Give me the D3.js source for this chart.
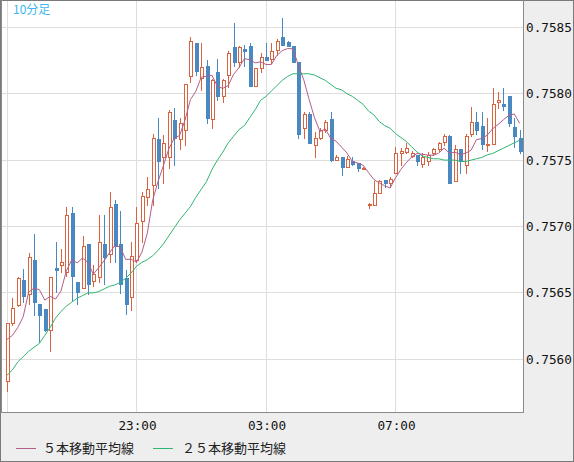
<!DOCTYPE html>
<html>
<head>
<meta charset="utf-8">
<script src="https://cdn.jsdelivr.net/npm/d3@7"></script>
<style>
body { margin: 0; background: #fff; }
svg { display: block; }
</style>
</head>
<body>
<div id="chart"></div>
<script>
// 10-minute candles, 19:00 .. 10:50
var opens = [0.75584, 0.75627, 0.75641, 0.75660, 0.75649, 0.75675, 0.75642, 0.75638, 0.75622, 0.75669,
  0.75671, 0.75666, 0.75710, 0.75658, 0.75654, 0.75687, 0.75659, 0.75662, 0.75687, 0.75679,
  0.75717, 0.75687, 0.75661, 0.75647, 0.75675, 0.75704, 0.75722, 0.75731, 0.75766, 0.75752,
  0.75752, 0.75780, 0.75766, 0.75773, 0.75813, 0.75838, 0.75812, 0.75821, 0.75781, 0.75816,
  0.75798, 0.75814, 0.75835, 0.75824, 0.75834, 0.75836, 0.75806, 0.75819, 0.75828, 0.75826,
  0.75833, 0.75843, 0.75839, 0.75836, 0.75824, 0.75774, 0.75785, 0.75761, 0.75767, 0.75773,
  0.75781, 0.75750, 0.75752, 0.75745, 0.75749, 0.75748, 0.75743, 0.75716, 0.75716, 0.75725,
  0.75735, 0.75733, 0.75740, 0.75755, 0.75756, 0.75753, 0.75754, 0.75747, 0.75749, 0.75755,
  0.75758, 0.75764, 0.75768, 0.75734, 0.75758, 0.75746, 0.75770, 0.75779, 0.75776, 0.75761,
  0.75762, 0.75794, 0.75792, 0.75798, 0.75775, 0.75767];
var highs = [0.75627, 0.75646, 0.75662, 0.75668, 0.75680, 0.75694, 0.75642, 0.75638, 0.75662, 0.75688,
  0.75683, 0.75715, 0.75715, 0.75658, 0.75693, 0.75687, 0.75671, 0.75709, 0.75709, 0.75726,
  0.75720, 0.75712, 0.75667, 0.75688, 0.75715, 0.75726, 0.75737, 0.75770, 0.75782, 0.75769,
  0.75788, 0.75789, 0.75782, 0.75807, 0.75843, 0.75838, 0.75838, 0.75825, 0.75811, 0.75826,
  0.75811, 0.75832, 0.75853, 0.75836, 0.75837, 0.75838, 0.75819, 0.75831, 0.75838, 0.75838,
  0.75841, 0.75857, 0.75840, 0.75836, 0.75824, 0.75786, 0.75786, 0.75771, 0.75774, 0.75780,
  0.75786, 0.75754, 0.75752, 0.75753, 0.75752, 0.75748, 0.75745, 0.75718, 0.75734, 0.75735,
  0.75735, 0.75737, 0.75760, 0.75759, 0.75763, 0.75757, 0.75754, 0.75755, 0.75756, 0.75759,
  0.75764, 0.75770, 0.75769, 0.75761, 0.75758, 0.75770, 0.75790, 0.75786, 0.75786, 0.75782,
  0.75804, 0.75801, 0.75804, 0.75798, 0.75782, 0.75773];
var lows = [0.75576, 0.75626, 0.75640, 0.75643, 0.75642, 0.75633, 0.75613, 0.75621, 0.75606, 0.75651,
  0.75666, 0.75663, 0.75645, 0.75642, 0.75654, 0.75649, 0.75655, 0.75658, 0.75657, 0.75673,
  0.75673, 0.75650, 0.75634, 0.75637, 0.75673, 0.75688, 0.75716, 0.75716, 0.75729, 0.75733,
  0.75744, 0.75746, 0.75758, 0.75761, 0.75809, 0.75814, 0.75803, 0.75778, 0.75774, 0.75795,
  0.75794, 0.75805, 0.75821, 0.75820, 0.75821, 0.75806, 0.75806, 0.75816, 0.75825, 0.75823,
  0.75829, 0.75837, 0.75836, 0.75824, 0.75767, 0.75767, 0.75763, 0.75752, 0.75766, 0.75771,
  0.75749, 0.75750, 0.75739, 0.75745, 0.75746, 0.75742, 0.75743, 0.75714, 0.75716, 0.75725,
  0.75730, 0.75730, 0.75740, 0.75746, 0.75755, 0.75752, 0.75746, 0.75745, 0.75746, 0.75754,
  0.75757, 0.75761, 0.75733, 0.75734, 0.75740, 0.75740, 0.75768, 0.75770, 0.75758, 0.75757,
  0.75762, 0.75789, 0.75788, 0.75776, 0.75760, 0.75755];
var closes = [0.75627, 0.75639, 0.75661, 0.75648, 0.75677, 0.75643, 0.75633, 0.75622, 0.75662, 0.75667,
  0.75673, 0.75709, 0.75663, 0.75651, 0.75685, 0.75657, 0.75664, 0.75688, 0.75677, 0.75715,
  0.75685, 0.75657, 0.75642, 0.75678, 0.75703, 0.75723, 0.75728, 0.75767, 0.75749, 0.75763,
  0.75786, 0.75767, 0.75778, 0.75807, 0.75840, 0.75817, 0.75820, 0.75782, 0.75810, 0.75798,
  0.75810, 0.75831, 0.75824, 0.75835, 0.75832, 0.75806, 0.75819, 0.75828, 0.75825, 0.75832,
  0.75840, 0.75837, 0.75836, 0.75824, 0.75770, 0.75785, 0.75763, 0.75767, 0.75773, 0.75779,
  0.75750, 0.75752, 0.75745, 0.75751, 0.75747, 0.75744, 0.75744, 0.75717, 0.75725, 0.75734,
  0.75733, 0.75736, 0.75755, 0.75757, 0.75759, 0.75755, 0.75749, 0.75752, 0.75754, 0.75758,
  0.75763, 0.75768, 0.75733, 0.75758, 0.75749, 0.75768, 0.75779, 0.75773, 0.75762, 0.75762,
  0.75792, 0.75795, 0.75791, 0.75778, 0.75768, 0.75757];

// 25-period average (its earlier candles are off screen)
var ma25 = [0.75588, 0.75592, 0.75598, 0.75602, 0.75606, 0.75609, 0.75612, 0.75618, 0.75624, 0.75631,
  0.75636, 0.75640, 0.75643, 0.75646, 0.75648, 0.75650, 0.75650, 0.75651, 0.75653, 0.75655,
  0.75656, 0.75658, 0.75661, 0.75665, 0.75670, 0.75673, 0.75675, 0.75678, 0.75682, 0.75687,
  0.75693, 0.75699, 0.75705, 0.75710, 0.75715, 0.75722, 0.75728, 0.75734, 0.75743, 0.75750,
  0.75756, 0.75763, 0.75768, 0.75773, 0.75776, 0.75782, 0.75788, 0.75795, 0.75798, 0.75802,
  0.75806, 0.75810, 0.75813, 0.75815, 0.75815, 0.75815, 0.75815, 0.75814, 0.75812, 0.75810,
  0.75807, 0.75804, 0.75803, 0.75800, 0.75798, 0.75795, 0.75792, 0.75787, 0.75784, 0.75779,
  0.75776, 0.75774, 0.75770, 0.75767, 0.75764, 0.75760, 0.75756, 0.75753, 0.75752, 0.75751,
  0.75751, 0.75750, 0.75750, 0.75750, 0.75749, 0.75749, 0.75750, 0.75751, 0.75752, 0.75754,
  0.75755, 0.75757, 0.75759, 0.75761, 0.75763, 0.75765];
// first four 5-period values
var ma5Head = [0.75615, 0.75618, 0.75624, 0.75632];

var startTime = "19:00";
var stepMinutes = 10;
var gridTimes = ["19:00", "23:00", "03:00", "07:00"];
var tickLabels = ["23:00", "03:00", "07:00"];
var yTicks = [0.7560, 0.7565, 0.7570, 0.7575, 0.7580, 0.7585];
var legendLabels = ["５本移動平均線", "２５本移動平均線"];
var periodLabel = "10分足";

var upColor = "#d9633f";
var downColor = "#4a88c1";
var ma5Color = "#b25d8c";
var ma25Color = "#2fb571";

var svgWidth = 574, svgHeight = 462;
var plot = {left: 1, top: 1, right: 523, bottom: 412};
var monoFont = "'DejaVu Sans Mono', 'Liberation Mono', monospace";
var jpFont = "'Noto Sans CJK JP', 'Noto Sans', sans-serif";

/* build the time labels of the candles */
var pad2 = d3.format("02");
var startMin = +startTime.split(":")[0] * 60 + +startTime.split(":")[1];
var times = opens.map(function(d, i) {
  var m = (startMin + i * stepMinutes) % 1440;
  return pad2(Math.floor(m / 60)) + ":" + pad2(m % 60);
});

var candles = times.map(function(t, i) {
  return {t: t, o: opens[i], h: highs[i], l: lows[i], c: closes[i]};
});

var ma5 = closes.map(function(c, i) {
  if (i < 4) return ma5Head[i];
  return d3.mean(closes.slice(i - 4, i + 1));
});

var x = d3.scalePoint().domain(times).range([7, 519.6]);
var y = d3.scaleLinear().domain([0.7560, 0.7585]).range([359.3, 27.3]);

var svg = d3.select("#chart").append("svg")
  .attr("width", svgWidth)
  .attr("height", svgHeight);

svg.append("rect")
  .attr("width", svgWidth).attr("height", svgHeight)
  .attr("fill", "#eeeeee");

svg.append("rect")
  .attr("x", plot.left).attr("y", plot.top)
  .attr("width", plot.right - plot.left).attr("height", plot.bottom - plot.top)
  .attr("fill", "#ffffff");

svg.append("clipPath").attr("id", "plotClip")
  .append("rect")
  .attr("x", plot.left).attr("y", plot.top)
  .attr("width", plot.right - plot.left).attr("height", plot.bottom - plot.top);

/* grid */
var grid = svg.append("g").attr("shape-rendering", "crispEdges").attr("stroke", "#dedede");
grid.selectAll(".hgrid")
  .data(yTicks)
  .enter().append("line")
  .attr("x1", plot.left).attr("x2", plot.right)
  .attr("y1", function(d) { return Math.floor(y(d)) + 0.5; })
  .attr("y2", function(d) { return Math.floor(y(d)) + 0.5; });
grid.selectAll(".vgrid")
  .data(gridTimes)
  .enter().append("line")
  .attr("x1", function(d) { return Math.round(x(d)) + 0.5; })
  .attr("x2", function(d) { return Math.round(x(d)) + 0.5; })
  .attr("y1", plot.top).attr("y2", plot.bottom);

/* candles */
var cg = svg.append("g").attr("clip-path", "url(#plotClip)").attr("shape-rendering", "crispEdges");
var candle = cg.selectAll(".candle")
  .data(candles)
  .enter().append("g")
  .attr("class", "candle");

candle.append("line")
  .attr("x1", function(d) { return Math.round(x(d.t)) + 0.5; })
  .attr("x2", function(d) { return Math.round(x(d.t)) + 0.5; })
  .attr("y1", function(d) { return Math.round(y(d.h)); })
  .attr("y2", function(d) { return Math.round(y(d.l)) + 1; })
  .attr("stroke", function(d) { return d.c >= d.o ? upColor : downColor; });

candle.filter(function(d) { return d.c < d.o; })
  .append("rect")
  .attr("x", function(d) { return Math.round(x(d.t)) - 1; })
  .attr("y", function(d) { return Math.round(y(d.o)); })
  .attr("width", 4)
  .attr("height", function(d) { return Math.max(1, Math.round(y(d.c)) - Math.round(y(d.o)) + 1); })
  .attr("fill", downColor);

candle.filter(function(d) { return d.c >= d.o; })
  .append("rect")
  .attr("x", function(d) { return Math.round(x(d.t)) - 0.5; })
  .attr("y", function(d) { return Math.round(y(d.c)) + 0.5; })
  .attr("width", 3)
  .attr("height", function(d) { return Math.max(0, Math.round(y(d.o)) - Math.round(y(d.c))); })
  .attr("fill", "#ffffff")
  .attr("stroke", upColor);

/* moving averages */
var maLine = d3.line()
  .x(function(d, i) { return x(times[i]); })
  .y(function(d) { return y(d); });

var lg = svg.append("g").attr("clip-path", "url(#plotClip)").attr("fill", "none");
lg.append("path").attr("d", maLine(ma25)).attr("stroke", ma25Color).attr("stroke-width", 1);
lg.append("path").attr("d", maLine(ma5)).attr("stroke", ma5Color).attr("stroke-width", 1);

/* frame */
var frame = svg.append("g").attr("shape-rendering", "crispEdges").attr("fill", "none");
frame.append("rect")
  .attr("x", 0.5).attr("y", 0.5)
  .attr("width", svgWidth - 1).attr("height", svgHeight - 1)
  .attr("stroke", "#7a7a7a");
frame.append("line")
  .attr("x1", 1.5).attr("x2", 1.5).attr("y1", 0).attr("y2", plot.bottom)
  .attr("stroke", "#8a8a8a");
frame.append("line")
  .attr("x1", plot.right + 0.5).attr("x2", plot.right + 0.5).attr("y1", 0).attr("y2", plot.bottom + 1)
  .attr("stroke", "#8a8a8a");
frame.append("line")
  .attr("x1", 0).attr("x2", plot.right + 1).attr("y1", plot.bottom + 0.5).attr("y2", plot.bottom + 0.5)
  .attr("stroke", "#8a8a8a");

/* y labels */
svg.selectAll(".ylabel")
  .data(yTicks)
  .enter().append("text")
  .attr("x", 526)
  .attr("y", function(d) { return y(d); })
  .attr("dy", "0.36em")
  .attr("font-family", monoFont)
  .attr("font-size", "12.7px")
  .attr("fill", "#111")
  .text(function(d) { return d3.format(".4f")(d); });

/* x labels */
svg.selectAll(".xlabel")
  .data(tickLabels)
  .enter().append("text")
  .attr("x", function(d) { return x(d) + 1; })
  .attr("y", 429.5)
  .attr("text-anchor", "middle")
  .attr("font-family", monoFont)
  .attr("font-size", "12.7px")
  .attr("fill", "#111")
  .text(function(d) { return d; });

/* period label */
svg.append("text")
  .attr("x", 13).attr("y", 14)
  .attr("font-family", jpFont)
  .attr("font-size", "12px")
  .attr("fill", "#3db8ee")
  .text(periodLabel);

/* legend */
var legendPos = [{lx: 16, tx: 43, color: ma5Color}, {lx: 153, tx: 182, color: ma25Color}];
var legend = svg.selectAll(".legend")
  .data(legendLabels)
  .enter().append("g")
  .attr("class", "legend");
legend.append("line")
  .attr("x1", function(d, i) { return legendPos[i].lx; })
  .attr("x2", function(d, i) { return legendPos[i].lx + 20; })
  .attr("y1", 448.5).attr("y2", 448.5)
  .attr("stroke", function(d, i) { return legendPos[i].color; })
  .attr("shape-rendering", "crispEdges");
legend.append("text")
  .attr("x", function(d, i) { return legendPos[i].tx; })
  .attr("y", 448)
  .attr("dy", "0.36em")
  .attr("font-family", jpFont)
  .attr("font-size", "13px")
  .attr("fill", "#222")
  .text(function(d) { return d; });
</script>
</body>
</html>
